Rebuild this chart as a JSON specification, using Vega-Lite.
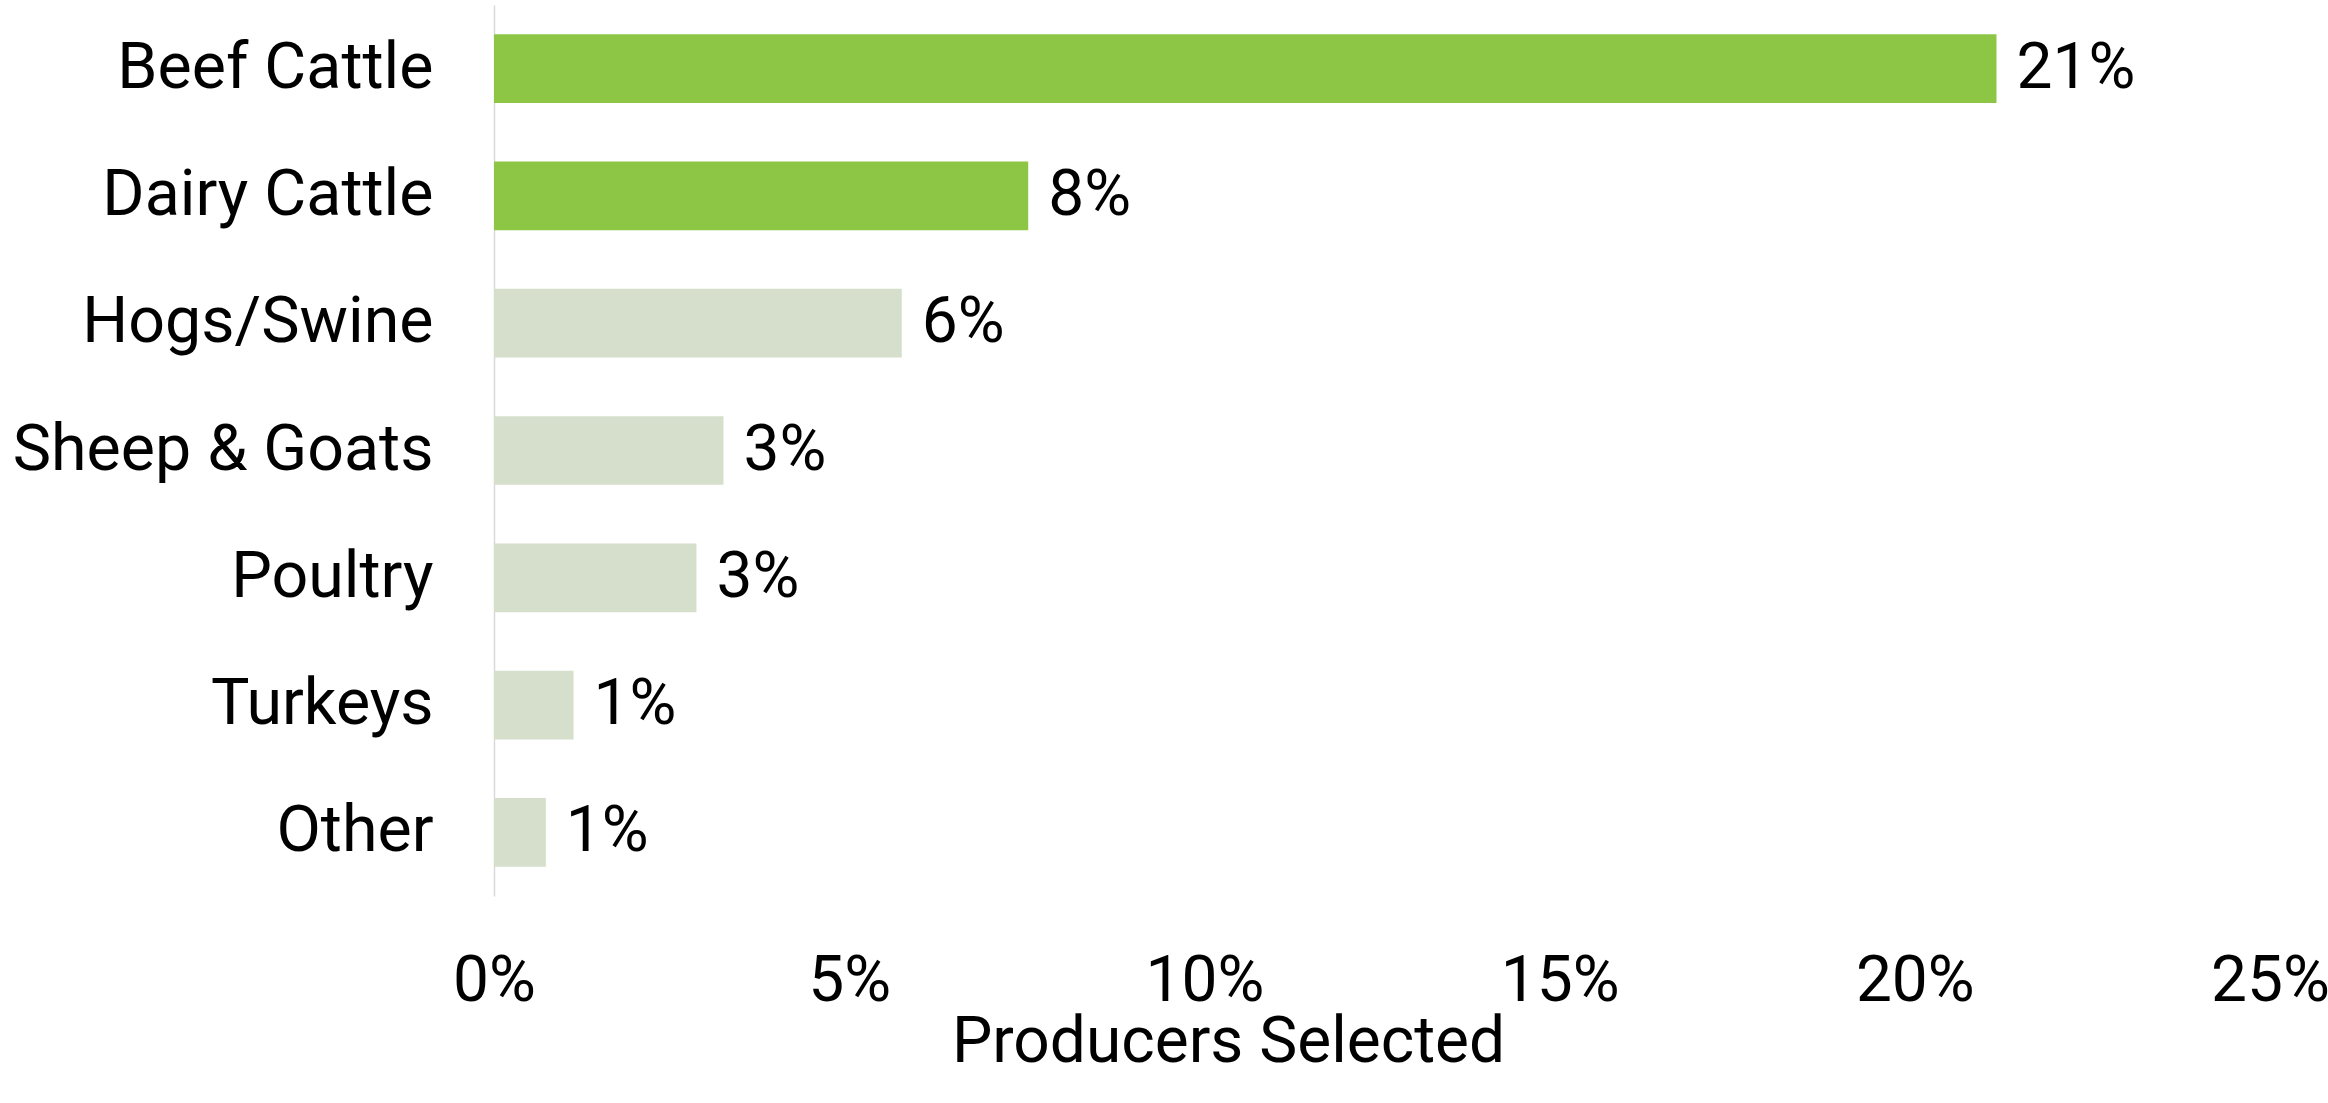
{
  "$schema": "https://vega.github.io/schema/vega-lite/v6.json",
  "autosize": {"type": "none"},
  "padding": {"left": 494, "top": 5, "right": 58, "bottom": 207},
  "width": 1776,
  "height": 891,
  "background": "white",
  "config": {
    "view": {"stroke": null},
    "font": "Roboto",
    "text": {"font": "Roboto"}
  },
  "data": {
    "values": [
      {"category": "Beef Cattle", "share": 0.2115},
      {"category": "Dairy Cattle", "share": 0.0752},
      {"category": "Hogs/Swine", "share": 0.0574},
      {"category": "Sheep & Goats", "share": 0.0323},
      {"category": "Poultry", "share": 0.0285},
      {"category": "Turkeys", "share": 0.0112},
      {"category": "Other", "share": 0.0073}
    ]
  },
  "encoding": {
    "y": {
      "field": "category",
      "type": "nominal",
      "sort": null,
      "scale": {"paddingInner": 0.46, "paddingOuter": 0.23},
      "axis": {
        "title": null,
        "ticks": false,
        "domain": true,
        "domainColor": "#d9d9d9",
        "domainWidth": 1.5,
        "labelFont": "Roboto",
        "labelFontSize": 64.5,
        "labelColor": "#000000",
        "labelPadding": 61,
        "labelLimit": 600
      }
    },
    "x": {
      "field": "share",
      "type": "quantitative",
      "scale": {"domain": [0, 0.25], "nice": false, "zero": true},
      "axis": {
        "values": [0, 0.05, 0.1, 0.15, 0.2, 0.25],
        "format": ".0%",
        "grid": false,
        "domain": false,
        "ticks": false,
        "labelFont": "Roboto",
        "labelFontSize": 64,
        "labelColor": "#000000",
        "labelPadding": 53,
        "labelFlush": false,
        "title": "Producers Selected",
        "titleFont": "Roboto",
        "titleFontSize": 64,
        "titleFontWeight": "normal",
        "titleColor": "#000000",
        "titleX": 734,
        "titleY": 165,
        "titleAlign": "center",
        "titleBaseline": "alphabetic"
      }
    }
  },
  "layer": [
    {
      "mark": {"type": "bar"},
      "encoding": {
        "color": {
          "condition": {"test": "datum.category === 'Beef Cattle' || datum.category === 'Dairy Cattle'", "value": "#8dc645"},
          "value": "#d5dfcb"
        }
      }
    },
    {
      "mark": {"type": "text", "align": "left", "baseline": "middle", "dx": 20, "fontSize": 64, "font": "Roboto", "color": "#000000"},
      "encoding": {
        "text": {"field": "share", "type": "quantitative", "format": ".0%"}
      }
    }
  ]
}
